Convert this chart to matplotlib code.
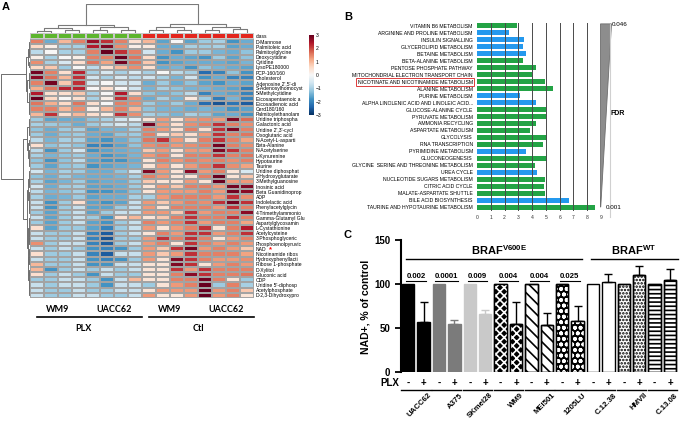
import matplotlib
matplotlib.use('Agg')
import matplotlib.pyplot as plt
import numpy as np
from matplotlib.colors import ListedColormap

plt.rcParams['font.family'] = ['Liberation Sans', 'DejaVu Sans']
plt.rcParams['hatch.linewidth'] = 1.2
plt.rcParams['mathtext.fontset'] = 'custom'
plt.rcParams['mathtext.bf'] = 'Liberation Sans:bold'
plt.rcParams['mathtext.rm'] = 'Liberation Sans'

W, H = 680, 421


def box(l, t, r, b):
    # pixel box -> figure fraction
    return [l / W, 1 - b / H, (r - l) / W, (b - t) / H]


# ---------------- panel A: heatmap ----------------
metabolites = [
    'D-Mannose', 'Palmitoleic acid', 'Palmitoylglycine', 'Deoxycytidine', 'Cytidine',
    'LysoPE180000', 'PCP-160/160', 'Cholesterol', "Adenosine 2',5'-di", 'S-Adenosylhomocyst',
    '5-Methylcytidine', 'Eicosapentaenoic a', 'Eicosadienoic acid', 'Cerd180/160',
    'Palmitoylethanolam', 'Uridine triphospha', 'Galactonic acid', "Uridine 2',3'-cycl",
    'Oxoglutaric acid', 'N-Acetyl-L-asparti', 'Beta-Alanine', 'N-Acetylserine',
    'L-Kynurenine', 'Hypotaurine', 'Taurine', 'Uridine diphosphat', '2-Hydroxyglutarate',
    '3-Methylguanosine', 'Inosinic acid', 'Beta Guanidinoprop', 'ADP', 'Indolelactic acid',
    'Phenylacetylglycin', '4-Trimethylammonio', 'Gamma-Glutamyl Glu', 'Aspartylglycosamin',
    'L-Cystathionine', 'Acetylcysteine', '3-Phosphoglyceric', 'Phosphoenolpyruvic', 'NAD',
    'Nicotinamide ribos', 'Hydroxyphenyllacti', 'Ribose 1-phosphate', 'D-Xylitol',
    'Gluconic acid', 'CDP', "Uridine 5'-diphosp", 'Acetylphosphate', 'D-2,3-Dihydroxypro',
]

heat_rows = [
    "1.5 -1.5 1.0 1.5 2.6 2.2 1.5 0.5   1.0 -1.6 0.0 -1.6 -1.1 -1.0 -1.8 -1.5",
    "0.6 0.2 -1.0 -1.0 2.4 2.8 1.4 0.2   0.3 -1.5 -1.5 -1.0 -1.1 -1.0 -1.6 -1.5",
    "-0.8 0.0 -1.0 -1.0 1.5 3.0 2.2 1.5   -0.6 -1.5 -1.8 -1.1 -1.1 -1.4 -1.5 -1.2",
    "0.2 -1.0 0.0 0.2 1.5 1.5 3.0 1.6   0.6 -1.8 -1.5 -1.6 -1.8 -1.1 -1.6 -1.2",
    "1.4 -1.0 -0.5 0.5 1.6 1.2 2.9 1.6   0.8 -1.8 -1.6 -1.5 -1.5 -1.5 -1.6 -1.4",
    "0.6 0.8 -1.1 0.0 -0.8 0.5 1.0 1.4   0.5 -1.5 -1.4 -1.8 -1.2 -1.4 -1.5 -1.6",
    "2.9 1.5 0.5 2.3 -1.0 -0.5 -1.0 -0.5   -1.0 0.0 -0.8 -1.0 -2.3 -2.0 -1.2 -1.8",
    "2.7 1.6 1.0 2.2 -0.6 -1.0 -0.5 -0.8   -0.6 -1.0 -1.4 -0.6 -1.8 -1.5 -2.0 -2.0",
    "1.5 2.9 0.8 2.2 -0.5 0.0 -0.6 -0.6   -1.5 -1.1 -1.5 -1.2 -1.6 -1.8 -1.5 -1.6",
    "1.1 1.6 2.3 2.3 0.0 0.5 0.0 -0.6   -1.4 -1.0 -1.2 -1.4 -1.4 -1.5 -1.6 -2.1",
    "2.4 0.5 0.5 0.8 -1.0 0.0 2.4 0.5   -1.2 -1.4 -1.2 -0.8 -2.0 -1.5 -1.6 -2.0",
    "3.0 0.6 0.0 0.5 -1.0 0.2 2.2 1.4   -1.5 -1.0 -1.4 0.3 -1.1 -2.1 -1.4 -2.0",
    "1.6 1.1 0.6 1.6 0.5 0.0 1.5 1.4   -1.1 -1.4 -1.1 -1.5 -2.3 -2.6 -2.2 -2.5",
    "1.5 1.5 1.0 1.4 0.2 1.0 1.5 1.0   -1.2 -1.4 -1.4 -1.5 -1.4 -1.5 -1.8 -1.6",
    "1.0 2.2 0.5 1.0 0.5 0.3 2.2 1.4   -1.0 -1.2 -1.4 -1.0 -1.2 -1.6 -1.5 -1.8",
    "-1.1 -1.6 -1.5 -1.5 -1.2 -1.0 -0.6 -0.3   0.4 1.3 0.4 1.3 1.4 1.3 2.8 1.7",
    "-1.0 -1.1 -1.2 -1.5 -1.1 -0.8 -0.5 -0.8   2.9 1.3 0.5 1.4 1.5 2.2 1.5 1.4",
    "-1.2 -1.5 -1.1 -1.0 -1.6 -1.4 -1.4 -1.0   1.5 1.3 0.5 1.5 0.5 2.2 2.8 1.5",
    "-1.1 -1.5 -1.2 -1.1 -1.5 -1.6 -1.2 -1.1   1.5 0.4 0.8 0.5 1.3 2.2 1.5 1.6",
    "-0.8 -1.4 -1.0 -1.0 -1.6 -1.8 -1.5 -1.2   1.6 2.2 1.3 0.4 1.5 2.2 1.5 1.2",
    "0.5 -1.2 -1.0 -1.2 -2.0 -2.0 -1.6 -1.2   1.4 1.5 1.3 1.4 1.5 2.9 1.5 1.4",
    "-0.8 -1.8 -1.1 -0.6 -1.8 -1.6 -1.5 -1.4   0.8 1.3 0.4 1.3 1.3 2.8 2.2 1.5",
    "-1.0 -1.4 -1.2 -1.1 -1.5 -1.8 -1.6 -1.4   1.3 1.5 0.4 1.5 1.5 2.2 1.5 1.6",
    "-1.2 -1.8 -1.2 -0.8 -1.6 -1.8 -1.8 -1.5   0.4 1.5 1.3 1.5 1.4 1.5 1.4 1.5",
    "-1.1 -1.6 -1.2 -1.1 -1.8 -1.6 -1.5 -1.4   0.4 1.3 0.4 1.3 1.5 2.2 1.4 1.2",
    "-0.6 -1.4 -1.0 -1.1 -1.5 -1.5 -1.2 -0.6   2.8 1.3 0.4 2.7 1.3 1.5 0.4 -0.5",
    "-1.2 -1.5 -1.1 -1.4 -1.5 -1.5 -1.4 -1.0   1.5 1.3 0.4 0.4 1.5 3.0 0.4 0.8",
    "-1.0 -1.6 -1.4 -1.1 -1.6 -1.5 -1.5 -1.1   0.8 0.4 0.4 1.3 0.4 3.0 1.3 1.3",
    "-0.6 -1.5 -1.1 -1.0 -1.6 -1.6 -1.5 -1.1   0.4 1.3 0.8 1.5 1.5 1.3 2.9 2.8",
    "-0.8 -1.4 -1.2 -1.0 -1.8 -1.8 -1.6 -1.2   0.4 1.3 1.3 1.3 1.5 1.3 2.9 2.7",
    "-1.0 -1.5 -1.4 -1.1 -1.6 -1.5 -1.5 -1.0   -1.0 1.3 1.5 1.5 1.5 1.3 2.2 1.4",
    "-0.7 -1.8 -1.1 0.5 -1.6 -1.8 -1.6 -0.7   1.3 0.8 1.3 1.5 1.4 2.2 2.9 2.2",
    "-0.7 -1.8 -1.1 -0.7 -1.6 -1.6 -1.1 -0.7   1.3 0.4 1.5 1.5 1.5 1.3 2.2 1.5",
    "-1.1 -1.6 -1.1 -0.7 -1.6 -1.1 -0.7 -0.7   1.3 1.3 0.8 2.2 1.3 1.5 1.5 2.7",
    "-0.7 -1.6 -1.1 -0.7 -1.1 -1.8 0.5 1.0   0.4 0.8 1.5 2.2 1.5 1.5 2.2 1.5",
    "-1.1 -1.6 -1.1 -0.7 -1.6 -1.8 -1.1 -0.7   1.5 1.3 1.5 2.2 1.3 1.5 1.5 1.2",
    "0.5 -1.6 -1.1 -1.1 -1.6 -2.0 -1.1 -0.7   1.3 0.4 1.3 1.5 2.2 0.4 1.5 2.4",
    "-0.7 -1.1 -1.1 -0.7 -2.0 -2.5 -1.1 -0.7   0.4 1.5 1.3 2.2 2.2 1.3 1.5 2.2",
    "-0.7 -1.1 -1.1 -0.7 -2.0 -2.6 -1.1 -1.1   1.3 2.2 1.5 2.2 1.5 0.4 1.3 1.5",
    "1.4 -1.1 -0.7 -0.7 -2.0 -2.5 -1.1 -0.7   1.3 1.5 0.4 2.2 1.5 1.3 1.5 1.3",
    "-0.7 -1.1 -0.7 -1.1 -1.8 -2.0 -1.8 -1.1   1.3 0.8 2.2 2.9 1.3 1.5 1.3 0.8",
    "0.5 -1.1 -1.1 -0.7 -2.0 -2.5 -0.7 -0.7   1.3 0.8 1.3 2.2 1.5 1.5 1.5 1.2",
    "-0.7 -1.1 -1.1 -0.7 -1.8 -2.0 -1.8 -1.1   1.3 0.4 2.8 2.2 1.5 1.3 1.3 1.4",
    "1.0 -1.1 -1.1 -0.7 -1.8 -1.8 -0.7 -0.7   0.4 0.4 2.8 2.2 0.4 1.3 1.5 1.3",
    "1.0 -1.8 -1.1 -0.7 -1.1 -0.7 -1.1 -0.7   0.4 0.4 2.2 1.3 2.2 1.5 1.5 1.5",
    "0.5 -1.1 -0.7 -1.1 -1.8 -0.7 -1.1 -1.1   0.4 0.4 1.5 2.7 2.2 1.5 1.5 1.6",
    "-1.1 -1.1 -0.7 -0.7 -1.1 -1.8 -0.7 1.0   0.4 0.4 1.5 1.5 2.9 1.5 0.4 -1.1",
    "-0.7 -1.1 -0.7 -0.7 -1.1 -1.8 -0.7 -0.7   -1.1 0.4 1.3 1.5 3.0 -1.1 1.5 -1.0",
    "-0.7 -1.1 -1.1 -0.7 -1.1 -1.1 -0.7 -0.7   0.4 1.3 1.3 1.3 3.0 1.3 1.5 0.8",
    "-0.7 -1.1 -1.1 -0.7 -0.7 -1.1 -1.1 -0.7   1.3 0.4 0.4 1.3 3.0 1.3 1.5 0.4",
]
heat = np.array([r.split() for r in heat_rows], dtype=float)

sample_class = [0, 0, 0, 0, 0, 0, 0, 0, 1, 1, 1, 1, 1, 1, 1, 1]
class_colors = ['#5db52e', '#e3261d']
col_groups = ['WM9', 'UACC62', 'WM9', 'UACC62']
col_group_pos = [2.0, 6.0, 10.0, 14.0]
treatments = ['PLX', 'Ctl']
treat_pos = [3.8, 12.0]
treat_span = [(0.5, 8.0), (8.5, 16.0)]
cb_ticks = [-3, -2, -1, 0, 1, 2, 3]

# (height, left, right); ints are leaf indices
col_tree = (1.0,
            (0.28, (0.17, (0.08, 0, 1), (0.1, 2, 3)), (0.2, (0.1, 4, 5), (0.12, 6, 7))),
            (0.3, (0.2, (0.1, 8, 9), (0.12, 10, 11)), (0.22, (0.1, 12, 13), (0.14, 14, 15))))
row_tree = (1.0,
            (0.14, (0.08, (0.03, (0.02, 0, 1), (0.02, 2, 3)), (0.03, 4, 5)),
             (0.09, (0.04, (0.02, 6, 7), (0.02, 8, 9)),
              (0.05, (0.02, 10, 11), (0.03, 12, (0.02, 13, 14))))),
            (0.25, (0.1, (0.05, (0.02, 15, 16), (0.03, 17, 18)),
                    (0.06, (0.03, 19, 20), (0.04, (0.02, 21, 22), (0.02, 23, 24)))),
             (0.12, (0.07, (0.04, (0.02, 25, 26), (0.03, 27, 28)),
                     (0.05, (0.02, 29, 30), (0.03, 31, (0.02, 32, 33)))),
              (0.08, (0.05, (0.03, 34, 35), (0.04, (0.02, 36, 37), (0.02, 38, 39))),
               (0.06, (0.04, (0.02, 40, 41), (0.03, 42, 43)),
                (0.05, (0.02, 44, 45), (0.03, (0.02, 46, 47), (0.02, 48, 49))))))))

# ---------------- panel B: pathway enrichment ----------------
pathways = [
    'VITAMIN B6 METABOLISM', 'ARGININE AND PROLINE METABOLISM', 'INSULIN SIGNALLING',
    'GLYCEROLIPID METABOLISM', 'BETAINE METABOLISM', 'BETA-ALANINE METABOLISM',
    'PENTOSE PHOSPHATE PATHWAY', 'MITOCHONDRIAL ELECTRON TRANSPORT CHAIN',
    'NICOTINATE AND NICOTINAMIDE METABOLISM', 'ALANINE METABOLISM', 'PURINE METABOLISM',
    'ALPHA LINOLENIC ACID AND LINOLEIC ACID...', 'GLUCOSE-ALANINE CYCLE',
    'PYRUVATE METABOLISM', 'AMMONIA RECYCLING', 'ASPARTATE METABOLISM', 'GLYCOLYSIS',
    'RNA TRANSCRIPTION', 'PYRIMIDINE METABOLISM', 'GLUCONEOGENESIS',
    'GLYCINE  SERINE AND THREONINE METABOLISM', 'UREA CYCLE', 'NUCLEOTIDE SUGARS METABOLISM',
    'CITRIC ACID CYCLE', 'MALATE-ASPARTATE SHUTTLE', 'BILE ACID BIOSYNTHESIS',
    'TAURINE AND HYPOTAURINE METABOLISM',
]
enrichment = [2.9, 2.3, 3.4, 3.35, 3.55, 3.35, 4.3, 4.0, 4.95, 5.5, 3.15, 4.3, 5.0, 5.0,
              4.25, 3.85, 5.1, 4.8, 3.55, 5.1, 4.2, 4.35, 4.95, 4.85, 4.9, 6.7, 8.55]
path_class = ['g', 'b', 'b', 'b', 'b', 'g', 'g', 'g', 'g', 'g', 'b', 'b', 'g', 'g',
              'g', 'g', 'g', 'g', 'b', 'g', 'g', 'b', 'g', 'g', 'g', 'b', 'g']
path_colors = {'g': '#23a345', 'b': '#2499ee'}
highlight = 'NICOTINATE AND NICOTINAMIDE METABOLISM'
fdr_top, fdr_bottom = 0.046, 0.001

# ---------------- panel C: NAD+ ----------------
cell_lines = ['UACC62', 'A375', 'SKmel28', 'WM9', 'MEI501', '1205LU', 'C.12.38', 'HMVII', 'C.13.08']
ctl_vals = [100, 100, 100, 100, 100, 100, 100, 100, 100]
plx_vals = [57, 54, 66, 55, 53, 58, 102, 110, 105]
plx_err = [22, 5, 5, 25, 14, 17, 9, 11, 12]
p_values = ['0.002', '0.0001', '0.009', '0.004', '0.004', '0.025']
bar_face = ['black', '#7b7b7b', '#c9c9c9', 'black', 'white', 'black', 'white', 'white', 'white']
bar_edge = ['black', '#7b7b7b', '#c9c9c9', 'black', 'black', 'black', 'black', 'black', 'black']
bar_hatch = [None, None, None, 'xxxx', '\\\\\\', 'ooo', None, '.....', '----']
hatch_col = [None, None, None, 'white', 'black', 'white', None, 'black', 'black']
braf_groups = [(r'BRAF$^{\bf{V600E}}$', 5.9, -0.15, 11.3), (r'BRAF$^{\bf{WT}}$', 14.6, 11.85, 17.5)]


def draw_tree(ax, node, vertical, color):
    if isinstance(node, int):
        return node + 0.5, 0.0
    h, left, right = node
    p1, h1 = draw_tree(ax, left, vertical, color)
    p2, h2 = draw_tree(ax, right, vertical, color)
    if vertical:
        ax.plot([p1, p1, p2, p2], [h1, h, h, h2], color=color, lw=0.8)
    else:
        ax.plot([h1, h, h, h2], [p1, p1, p2, p2], color=color, lw=0.7)
    return (p1 + p2) / 2, h


fig = plt.figure(figsize=(6.8, 4.21), dpi=100)

# heatmap
axh = fig.add_axes(box(30, 39, 254, 298))
n_rows, n_cols = heat.shape
mesh = axh.pcolormesh(np.arange(n_cols + 1), np.arange(n_rows + 1), heat, cmap='RdBu_r',
                      vmin=-3, vmax=3, edgecolors='#a3a3a3', linewidth=0.3)
axh.set_xlim(0, n_cols)
axh.set_ylim(n_rows, 0)
axh.set_xticks([])
axh.yaxis.tick_right()
axh.set_yticks(np.arange(n_rows) + 0.5)
axh.set_yticklabels(metabolites, fontsize=3.6)
axh.tick_params(axis='y', length=0, pad=1.5)
for s in axh.spines.values():
    s.set_visible(False)
axh.annotate('*', xy=(1, metabolites.index('NAD') + 0.5), xycoords=('axes fraction', 'data'),
             xytext=(10.5, -0.8), textcoords='offset points', color='red', fontsize=5.5,
             va='center', ha='left', weight='bold')

for name, xp in zip(col_groups, col_group_pos):
    axh.text(xp, 52.3, name, ha='center', va='center', fontsize=6.5, weight='bold',
             family=['Lato', 'DejaVu Sans'], clip_on=False)
for name, xp, (x0, x1) in zip(treatments, treat_pos, treat_span):
    axh.plot([x0, x1], [53.7, 53.7], color='black', lw=1.2, clip_on=False)
    axh.text(xp, 55.9, name, ha='center', va='center', fontsize=6.5, weight='bold',
             family=['Lato', 'DejaVu Sans'], clip_on=False)

# class bar
axk = fig.add_axes(box(30, 33, 254, 38.5))
axk.pcolormesh(np.arange(n_cols + 1), [0, 1], np.array([sample_class]),
               cmap=ListedColormap(class_colors), vmin=0, vmax=1,
               edgecolors='#c8c8c8', linewidth=0.3)
axk.set_xlim(0, n_cols)
axk.set_xticks([])
axk.yaxis.tick_right()
axk.set_yticks([0.5])
axk.set_yticklabels(['class'], fontsize=3.6)
axk.tick_params(axis='y', length=0, pad=1.5)
for s in axk.spines.values():
    s.set_visible(False)

# dendrograms
axd = fig.add_axes(box(30, 3.5, 254, 33))
draw_tree(axd, col_tree, True, '#7a7a7a')
axd.set_xlim(0, n_cols)
axd.set_ylim(0, 1.03)
axd.axis('off')

axr = fig.add_axes(box(0, 39, 30, 298))
draw_tree(axr, row_tree, False, '#6e6e6e')
axr.set_xlim(1.05, 0)
axr.set_ylim(n_rows, 0)
axr.axis('off')

# colour bar
cax = fig.add_axes(box(309, 35, 314, 115))
cb = fig.colorbar(mesh, cax=cax, ticks=cb_ticks)
cb.ax.tick_params(labelsize=3.6, length=0, pad=1.5)
cb.outline.set_visible(False)

# ---------------- panel B ----------------
axb = fig.add_axes(box(477, 22.5, 601, 210.5))
yb = np.arange(len(pathways))
axb.barh(yb, enrichment, height=0.72, color=[path_colors[c] for c in path_class], zorder=2)
axb.vlines(np.arange(1, 9), -0.7, len(pathways) - 0.3, color='#4a4a4a', lw=0.7, zorder=3)
axb.set_xlim(0, 9)
axb.set_ylim(len(pathways) - 0.5, -0.5)
axb.set_yticks(yb)
axb.set_yticklabels(pathways, fontsize=3.7)
axb.set_xticks(np.arange(10))
axb.tick_params(axis='x', labelsize=3.6, length=0, pad=3, labelcolor='#333333')
axb.tick_params(axis='y', length=0, pad=3)
for s in axb.spines.values():
    s.set_visible(False)
for lab in axb.get_yticklabels():
    if lab.get_text() == highlight:
        lab.set_bbox(dict(boxstyle='square,pad=0.25', fc='none', ec='#e03a3a', lw=0.7))

# FDR wedge
axf = fig.add_axes(box(599, 22.5, 615, 210.5))
axf.set_xlim(0, 16)
axf.set_ylim(len(pathways) - 0.5, -0.5)
wscale = 11.0 / fdr_top
axf.fill([1.5, 1.5 + fdr_top * wscale, 1.5 + fdr_bottom * wscale, 1.5],
         [-0.3, -0.3, len(pathways) - 1, len(pathways) - 1], color='#8d8d8d', lw=0.6,
         ec='#6d6d6d')
axf.plot([10.5, 10.5], [-0.3, len(pathways) + 0.4], color='#d0d0d0', lw=0.8, clip_on=False)
axf.axis('off')
axf.text(13, -0.2, '%.3f' % fdr_top, fontsize=4.5, va='center', ha='left', clip_on=False)
axf.text(11.5, 12.6, 'FDR', fontsize=5, weight='bold', va='center', ha='left', clip_on=False)
axf.text(7, len(pathways) - 1, '%.3f' % fdr_bottom, fontsize=4.5, va='center', ha='left',
         clip_on=False)

# ---------------- panel C ----------------
axc = fig.add_axes(box(400.7, 240, 678.5, 372))
for i, name in enumerate(cell_lines):
    for j, (val, err) in enumerate([(ctl_vals[i], 0), (plx_vals[i], plx_err[i])]):
        x = 2 * i + j
        axc.bar(x, val, width=0.8, color=bar_face[i], edgecolor=bar_edge[i], lw=1, zorder=2)
        if bar_hatch[i]:
            axc.bar(x, val, width=0.8, color='none', edgecolor=hatch_col[i], lw=0,
                    hatch=bar_hatch[i], zorder=3)
            axc.bar(x, val, width=0.8, color='none', edgecolor=bar_edge[i], lw=1, zorder=4)
        if err:
            axc.errorbar(x, val, yerr=[[0], [err]], fmt='none', ecolor=bar_edge[i],
                         elinewidth=1, capsize=3, capthick=1, zorder=5)
        axc.text(x, -12.5, '-+'[j], ha='center', va='center', fontsize=7, weight='bold',
                 clip_on=False)
    axc.plot([2 * i - 0.45, 2 * i + 1.45], [-20.5, -20.5], color='black', lw=1, clip_on=False)
    axc.text(2 * i + 1.3, -22.5, name, rotation=45, rotation_mode='anchor', ha='right',
             va='top', fontsize=5.6, weight='bold', clip_on=False)

axc.text(-0.6, -12.5, 'PLX', ha='right', va='center', fontsize=7, weight='bold', clip_on=False)

p_texts = []
for i, p in enumerate(p_values):
    p_texts.append(axc.text(2 * i + 0.5, 105, p, ha='center', va='bottom', fontsize=5.6,
                            weight='bold'))

for label, xc, x0, x1 in braf_groups:
    axc.text(xc, 138.6, label, ha='center', va='center', fontsize=8, weight='bold',
             clip_on=False)
    axc.plot([x0, x1], [128.7, 128.7], color='black', lw=1, clip_on=False)

axc.set_xlim(-0.49, 17.55)
axc.set_ylim(0, 150)
axc.set_yticks([0, 50, 100, 150])
axc.set_xticks([])
axc.tick_params(axis='y', labelsize=7, width=1.3, length=4)
for lab in axc.get_yticklabels():
    lab.set_fontweight('bold')
for k in ['top', 'right', 'bottom']:
    axc.spines[k].set_visible(False)
axc.spines['left'].set_linewidth(1.5)

fig.text(365 / W, 1 - 307 / H, 'NAD+, % of control', rotation=90, ha='center', va='center',
         fontsize=7.5, weight='bold')

# panel letters
for letter, xp, yp in [('A', 2, 7), ('B', 344, 16.5), ('C', 344, 235.5)]:
    fig.text(xp / W, 1 - yp / H, letter, fontsize=8, weight='bold', va='center', ha='left')

# underline p-values by their rendered width
fig.canvas.draw()
inv = axc.transData.inverted()
for t in p_texts:
    bb = t.get_window_extent()
    (xa, _), (xb, _) = inv.transform([[bb.x0, bb.y0], [bb.x1, bb.y0]])
    axc.plot([xa, xb], [103.6, 103.6], color='black', lw=0.8, clip_on=False)

fig.savefig('out.png', dpi=100)
